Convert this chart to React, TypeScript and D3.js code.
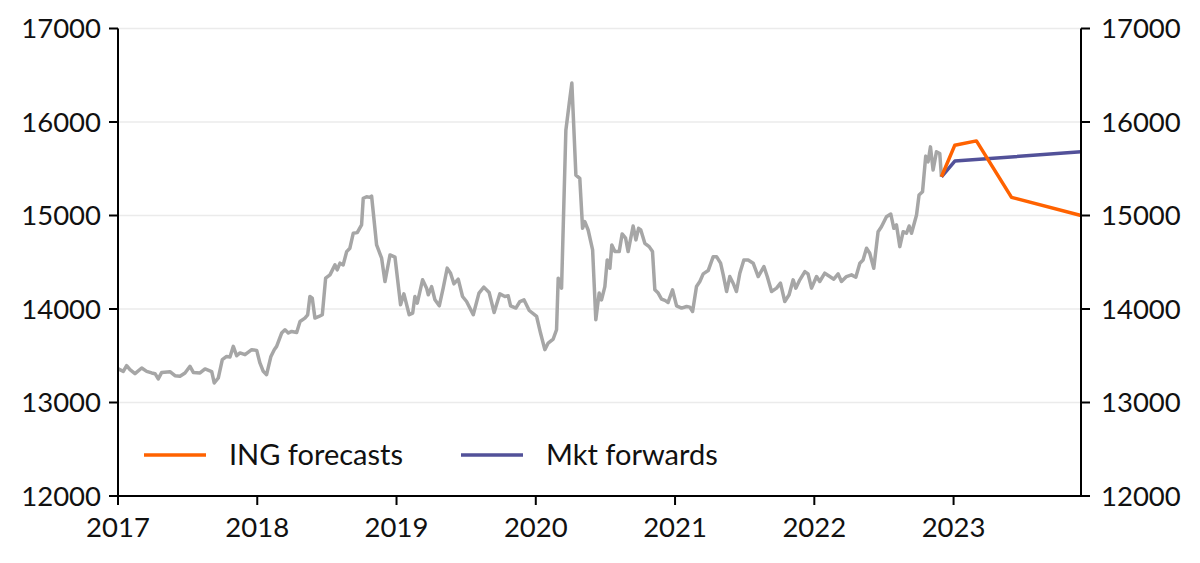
import React from "react";
import * as d3 from "d3";

// Time as fractional year, value in index points
const histTime: number[] = [
  2017.002, 2017.038, 2017.062, 2017.086, 2017.122, 2017.17, 2017.206, 2017.242, 2017.266, 2017.289,
  2017.314, 2017.373, 2017.409, 2017.445, 2017.481, 2017.517, 2017.541, 2017.589, 2017.625, 2017.673,
  2017.691, 2017.72, 2017.749, 2017.78, 2017.804, 2017.828, 2017.852, 2017.876, 2017.912, 2017.96,
  2017.996, 2018.019, 2018.043, 2018.067, 2018.098, 2018.122, 2018.139, 2018.175, 2018.199, 2018.223,
  2018.247, 2018.283, 2018.307, 2018.342, 2018.362, 2018.378, 2018.395, 2018.414, 2018.443, 2018.467,
  2018.491, 2018.522, 2018.558, 2018.574, 2018.594, 2018.617, 2018.642, 2018.665, 2018.689, 2018.718,
  2018.749, 2018.761, 2018.785, 2018.809, 2018.821, 2018.857, 2018.893, 2018.917, 2018.953, 2018.989,
  2019.029, 2019.053, 2019.091, 2019.116, 2019.132, 2019.149, 2019.187, 2019.216, 2019.228, 2019.252,
  2019.276, 2019.307, 2019.335, 2019.364, 2019.388, 2019.412, 2019.443, 2019.474, 2019.503, 2019.551,
  2019.592, 2019.627, 2019.665, 2019.701, 2019.742, 2019.778, 2019.802, 2019.819, 2019.857, 2019.886,
  2019.915, 2019.953, 2020.006, 2020.034, 2020.065, 2020.089, 2020.125, 2020.149, 2020.161, 2020.185,
  2020.216, 2020.24, 2020.259, 2020.288, 2020.316, 2020.336, 2020.352, 2020.376, 2020.408, 2020.431,
  2020.455, 2020.472, 2020.496, 2020.513, 2020.532, 2020.546, 2020.568, 2020.599, 2020.62, 2020.645,
  2020.663, 2020.699, 2020.719, 2020.738, 2020.754, 2020.783, 2020.814, 2020.838, 2020.855, 2020.879,
  2020.903, 2020.927, 2020.95, 2020.982, 2021.011, 2021.047, 2021.083, 2021.106, 2021.126, 2021.154,
  2021.178, 2021.202, 2021.238, 2021.274, 2021.298, 2021.327, 2021.346, 2021.37, 2021.393, 2021.417,
  2021.441, 2021.465, 2021.494, 2021.525, 2021.561, 2021.597, 2021.638, 2021.662, 2021.693, 2021.729,
  2021.757, 2021.788, 2021.819, 2021.848, 2021.867, 2021.896, 2021.932, 2021.955, 2021.98, 2022.016,
  2022.039, 2022.075, 2022.111, 2022.14, 2022.171, 2022.195, 2022.231, 2022.267, 2022.298, 2022.327,
  2022.35, 2022.375, 2022.398, 2022.427, 2022.458, 2022.482, 2022.518, 2022.549, 2022.571, 2022.59,
  2022.614, 2022.638, 2022.662, 2022.681, 2022.698, 2022.734, 2022.752, 2022.777, 2022.8, 2022.817,
  2022.834, 2022.853, 2022.877, 2022.901, 2022.913,
];
const histValue: number[] = [
  13359, 13333, 13394, 13351, 13308, 13369, 13333, 13316, 13308, 13252,
  13322, 13330, 13287, 13280, 13316, 13387, 13322, 13316, 13359, 13330,
  13209, 13262, 13458, 13493, 13487, 13600, 13500, 13530, 13511, 13565,
  13557, 13423, 13333, 13298, 13493, 13565, 13600, 13743, 13778, 13743,
  13760, 13749, 13867, 13903, 13938, 14134, 14116, 13903, 13920, 13938,
  14330, 14365, 14472, 14418, 14490, 14472, 14614, 14650, 14810, 14817,
  14899, 15184, 15201, 15194, 15208, 14685, 14543, 14293, 14578, 14554,
  14045, 14162, 13938, 13956, 14134, 14063, 14312, 14223, 14152, 14240,
  14098, 14034, 14223, 14437, 14383, 14269, 14319, 14134, 14080, 13938,
  14170, 14234, 14176, 13963, 14162, 14134, 14141, 14034, 14010, 14080,
  14098, 13984, 13920, 13743, 13565, 13636, 13679, 13778, 14330, 14223,
  15912, 16197, 16417, 15432, 15397, 14863, 14934, 14845, 14632, 13885,
  14170, 14098, 14240, 14525, 14436, 14685, 14614, 14614, 14803, 14757,
  14614, 14888, 14739, 14863, 14845, 14703, 14667, 14614, 14205, 14170,
  14106, 14092, 14070, 14205, 14034, 14010, 14027, 14020, 13973, 14240,
  14294, 14376, 14411, 14560, 14560, 14490, 14365, 14187, 14347, 14276,
  14187, 14383, 14525, 14525, 14490, 14347, 14454, 14347, 14187, 14223,
  14276, 14080, 14152, 14312, 14223, 14312, 14400, 14376, 14223, 14347,
  14294, 14383, 14347, 14319, 14376, 14294, 14347, 14365, 14340, 14490,
  14525, 14650, 14596, 14436, 14827, 14880, 14987, 15016, 14863, 14899,
  14667, 14827, 14810, 14888, 14810, 15005, 15219, 15254, 15635, 15574,
  15734, 15486, 15681, 15663, 15414,
];

const ingTime: number[] = [2022.913, 2023.009, 2023.164, 2023.416, 2023.915];
const ingValue: number[] = [15414, 15752, 15798, 15194, 15000];

const fwdTime: number[] = [2022.913, 2023.009, 2023.915];
const fwdValue: number[] = [15414, 15582, 15681];

const yTicks: number[] = [12000, 13000, 14000, 15000, 16000, 17000];
const xTicks: number[] = [2017, 2018, 2019, 2020, 2021, 2022, 2023];
const legendLabels: string[] = ["ING forecasts", "Mkt forwards"];

const W = 1200;
const H = 563;
const left = 118;
const right = 1081;
const top = 28.5;
const bottom = 496;
const FONT = "Lato, 'Noto Sans', sans-serif";

export default function App() {
  const x = d3.scaleLinear().domain([2017, 2023.915]).range([left, right]);
  const y = d3.scaleLinear().domain([12000, 17000]).range([bottom, top]);
  const line = d3
    .line<[number, number]>()
    .x((d) => x(d[0]))
    .y((d) => y(d[1]))
    .curve(d3.curveLinear);

  const hist = histTime.map((t, i) => [t, histValue[i]] as [number, number]);
  const ing = ingTime.map((t, i) => [t, ingValue[i]] as [number, number]);
  const fwd = fwdTime.map((t, i) => [t, fwdValue[i]] as [number, number]);

  const colors = ["#ff6200", "#525199"];
  const legendX = [144, 461];
  const legendY = 455;

  return (
    <svg
      width={W}
      height={H}
      style={{ position: "absolute", left: 0, top: 0, background: "#fff" }}
      fontFamily={FONT}
    >
      {yTicks.map((t) => (
        <line key={"g" + t} x1={left} x2={right} y1={y(t)} y2={y(t)} stroke="#ebebeb" strokeWidth={1.5} />
      ))}
      <path d={line(hist) || ""} fill="none" stroke="#a6a6a6" strokeWidth={3.5} strokeLinejoin="round" />
      <path d={line(fwd) || ""} fill="none" stroke={colors[1]} strokeWidth={3.5} strokeLinejoin="round" />
      <path d={line(ing) || ""} fill="none" stroke={colors[0]} strokeWidth={3.5} strokeLinejoin="round" />

      {/* axes */}
      <line x1={left} x2={left} y1={top} y2={bottom} stroke="#000" strokeWidth={2} />
      <line x1={right} x2={right} y1={top} y2={bottom} stroke="#000" strokeWidth={2} />
      <line x1={left - 9} x2={right + 9} y1={bottom} y2={bottom} stroke="#000" strokeWidth={2} />
      {yTicks.map((t) => (
        <g key={"y" + t}>
          <line x1={left - 9} x2={left} y1={y(t)} y2={y(t)} stroke="#000" strokeWidth={2} />
          <line x1={right} x2={right + 9} y1={y(t)} y2={y(t)} stroke="#000" strokeWidth={2} />
          <text x={left - 17} y={y(t)} dy="0.35em" textAnchor="end" fontSize={27.5} fill="#111">
            {t}
          </text>
          <text x={right + 20} y={y(t)} dy="0.35em" textAnchor="start" fontSize={27.5} fill="#111">
            {t}
          </text>
        </g>
      ))}
      {xTicks.map((t) => (
        <g key={"x" + t}>
          <line x1={x(t)} x2={x(t)} y1={bottom} y2={bottom + 9} stroke="#000" strokeWidth={2} />
          <text x={x(t)} y={bottom + 31} dy="0.35em" textAnchor="middle" fontSize={27.5} fill="#111">
            {t}
          </text>
        </g>
      ))}

      {/* legend */}
      {legendLabels.map((l, i) => (
        <g key={l}>
          <line x1={legendX[i]} x2={legendX[i] + 62} y1={legendY} y2={legendY} stroke={colors[i]} strokeWidth={3.5} />
          <text x={legendX[i] + 85} y={legendY} dy="0.35em" fontSize={29} fill="#111">
            {l}
          </text>
        </g>
      ))}
    </svg>
  );
}
